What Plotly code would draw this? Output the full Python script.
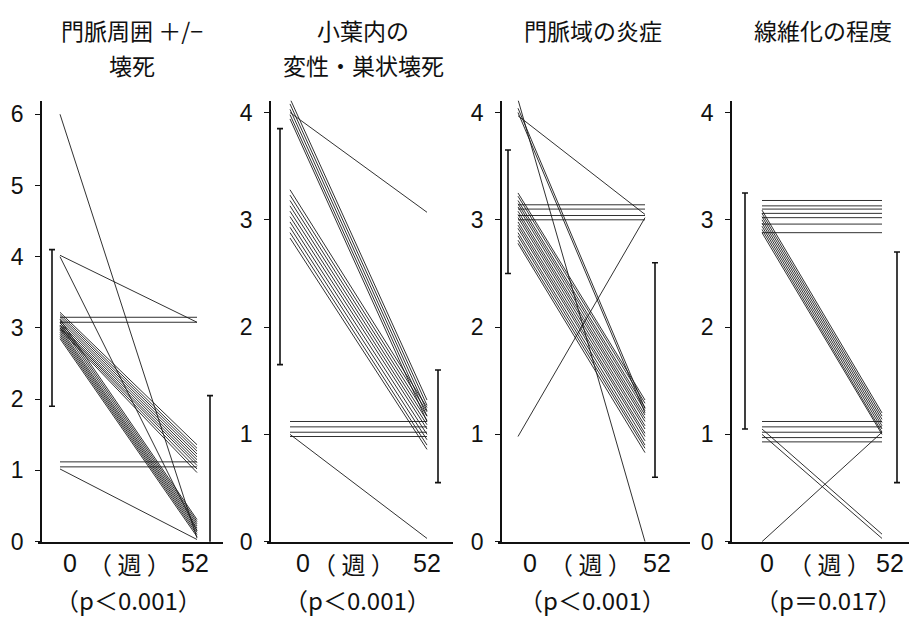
import plotly.graph_objects as go

W, H = 909, 627
FONT = "Noto Sans CJK JP, Liberation Sans, sans-serif"
NUMFONT = "Liberation Sans, Arial, sans-serif"

# ---------------- data (score at week 0 -> week 52, one pair per patient) -------------
p1_w0 = [6.0, 4.02, 4.0, 3.15, 3.08,
         3.22, 3.19, 3.16, 3.13, 3.10, 3.07, 3.04, 3.02, 3.00, 2.98,
         3.12, 3.08, 3.04, 3.0, 2.97, 2.94, 2.91, 2.88, 2.85,
         1.12, 1.05, 1.02]
p1_w52 = [0.05, 3.08, 0.15, 3.15, 3.08,
          1.36, 1.31, 1.27, 1.23, 1.19, 1.15, 1.11, 1.07, 1.02, 0.97,
          0.31, 0.28, 0.25, 0.22, 0.19, 0.16, 0.13, 0.10, 0.07,
          1.12, 1.05, 0.03]

p2_w0 = [4.13, 4.08, 4.03, 3.98, 3.94, 4.0,
         3.28, 3.23, 3.18, 3.13, 3.08, 3.03, 2.98, 2.93, 2.88, 2.83,
         1.12, 1.07, 1.02, 0.98, 1.0]
p2_w52 = [1.32, 1.27, 1.22, 1.17, 1.12, 3.07,
          1.25, 1.21, 1.17, 1.13, 1.09, 1.05, 1.0, 0.95, 0.9, 0.86,
          1.12, 1.07, 1.02, 0.98, 0.03]

p3_w0 = [4.12, 4.04, 4.0, 3.97, 3.14, 3.10, 3.04, 3.0, 0.98,
         3.25, 3.22, 3.18, 3.15, 3.12, 3.08, 3.05, 3.02, 2.98, 2.95,
         2.92, 2.88, 2.85, 2.81, 2.78]
p3_w52 = [0.0, 1.24, 1.2, 3.05, 3.14, 3.10, 3.04, 3.0, 3.02,
          1.32, 1.29, 1.25, 1.22, 1.18, 1.15, 1.12, 1.08, 1.05, 1.01,
          0.98, 0.94, 0.9, 0.87, 0.83]

p4_w0 = [3.18, 3.13, 3.10, 3.06, 3.02, 2.96, 2.88,
         3.09, 3.06, 3.03, 3.0, 2.97, 2.94, 2.91, 2.88,
         1.12, 1.07, 1.02, 0.97, 0.93,
         1.05, 1.0, 0.0]
p4_w52 = [3.18, 3.13, 3.10, 3.06, 3.02, 2.96, 2.88,
          1.2, 1.17, 1.14, 1.11, 1.08, 1.05, 1.02, 1.0,
          1.12, 1.07, 1.02, 0.97, 0.93,
          0.07, 0.03, 1.02]

# mean and SD error bars (week 0, week 52)
p1_mean, p1_sd = [3.0, 1.0], [1.1, 1.05]
p2_mean, p2_sd = [2.75, 1.075], [1.1, 0.525]
p3_mean, p3_sd = [3.075, 1.6], [0.575, 1.0]
p4_mean, p4_sd = [2.15, 1.625], [1.1, 1.075]

weeks = [0, 52]
titles = [["門脈周囲 ＋/−", "壊死"], ["小葉内の", "変性・巣状壊死"], ["門脈域の炎症"], ["線維化の程度"]]
week_unit = "（ 週 ）"
pvals = ["（p＜0.001）", "（p＜0.001）", "（p＜0.001）", "（p＝0.017）"]
yticks = [[0, 1, 2, 3, 4, 5, 6], [0, 1, 2, 3, 4], [0, 1, 2, 3, 4], [0, 1, 2, 3, 4]]

panels = [(p1_w0, p1_w52, p1_mean, p1_sd),
          (p2_w0, p2_w52, p2_mean, p2_sd),
          (p3_w0, p3_w52, p3_mean, p3_sd),
          (p4_w0, p4_w52, p4_mean, p4_sd)]

# ---------------- layout geometry (pixels) ----------------
# axis_px, start_px (week 0), end_px (week 52), axis_end_px, errL_px, errR_px
geo = [(41, 60, 197, 223, 52, 210),
       (270, 290, 427, 453, 280, 438),
       (501, 518, 645, 690, 508, 655),
       (731, 762, 882, 909, 745, 897)]
ymax = [6.19, 4.11, 4.11, 4.11]
Y0_PX, YTOP_PX = 553, 102
title_cx = [132, 363, 593, 823]
title_y = [30, 65]
lab0_shift = [10, 13, 12, 5]
lab52_shift = [-2, 0, 12, 8]
week_cx = [129, 353, 590, 829]
p_cx = [128, 357, 592, 828]
ROW1_Y, ROW2_Y = 575, 612

fig = go.Figure()
layout = dict(width=W, height=H, margin=dict(l=0, r=0, t=0, b=0),
              paper_bgcolor="white", plot_bgcolor="white", showlegend=False,
              font=dict(family=FONT, color="#111"))
annotations = []

for i, ((w0, w52, mn, sd), (ax, st, en, ae, el, er)) in enumerate(zip(panels, geo)):
    k = "" if i == 0 else str(i + 1)
    ppw = (en - st) / 52.0
    xmin = -(st - ax) / ppw
    xmax = 52 + (ae - en) / ppw
    xl = -(st - el) / ppw
    xr = 52 + (er - en) / ppw

    xs, ys = [], []
    for a, b in zip(w0, w52):
        xs += [weeks[0], weeks[1], None]
        ys += [a, b, None]
    fig.add_trace(go.Scatter(x=xs, y=ys, mode="lines",
                             line=dict(color="#1a1a1a", width=0.9),
                             xaxis="x" + k, yaxis="y" + k, hoverinfo="skip"))
    fig.add_trace(go.Scatter(x=[xl, xr], y=mn, mode="markers",
                             marker=dict(size=1, color="rgba(0,0,0,0)"),
                             error_y=dict(type="data", array=sd, symmetric=True,
                                          color="#111", thickness=1.6, width=3),
                             cliponaxis=False,
                             xaxis="x" + k, yaxis="y" + k, hoverinfo="skip"))

    layout["xaxis" + k] = dict(domain=[(ax - 3) / W, ae / W],
                               range=[xmin - 3 / ppw, xmax],
                               anchor="y" + k, showline=True, linecolor="#111",
                               linewidth=1.6, showgrid=False, zeroline=False,
                               showticklabels=False, ticks="", fixedrange=True)
    layout["yaxis" + k] = dict(domain=[(H - Y0_PX) / H, (H - YTOP_PX) / H],
                               range=[0, ymax[i]], anchor="free",
                               position=ax / W,
                               showline=True, linecolor="#111", linewidth=1.6,
                               showgrid=False, zeroline=False, ticks="outside",
                               ticklen=5, tickwidth=1.4, tickcolor="#111",
                               tickvals=yticks[i], ticklabelstandoff=7,
                               fixedrange=True,
                               tickfont=dict(size=23, family=NUMFONT, color="#111"))

    # titles
    for j, line in enumerate(titles[i]):
        annotations.append(dict(text=line, x=title_cx[i] / W, y=(H - title_y[j]) / H,
                                xref="paper", yref="paper", xanchor="center",
                                yanchor="middle", showarrow=False,
                                font=dict(size=23, family=FONT, color="#111")))
    # week labels
    for wx, sh in ((weeks[0], lab0_shift[i]), (weeks[1], lab52_shift[i])):
        annotations.append(dict(text=str(wx), x=wx, xref="x" + k, xshift=sh,
                                y=(H - ROW1_Y) / H, yref="paper", xanchor="center",
                                yanchor="middle", showarrow=False,
                                font=dict(size=25, family=NUMFONT, color="#111")))
    annotations.append(dict(text=week_unit, x=week_cx[i] / W, y=(H - ROW1_Y) / H,
                            xref="paper", yref="paper", xanchor="center",
                            yanchor="middle", showarrow=False,
                            font=dict(size=24, family=FONT, color="#111")))
    annotations.append(dict(text=pvals[i], x=p_cx[i] / W, y=(H - ROW2_Y) / H,
                            xref="paper", yref="paper", xanchor="center",
                            yanchor="middle", showarrow=False,
                            font=dict(size=24, family=FONT, color="#111")))

layout["annotations"] = annotations
fig.update_layout(**layout)
fig.write_html("out.html", config={"displayModeBar": False},
               post_script="document.body.style.margin='0';document.body.style.overflow='hidden';")
